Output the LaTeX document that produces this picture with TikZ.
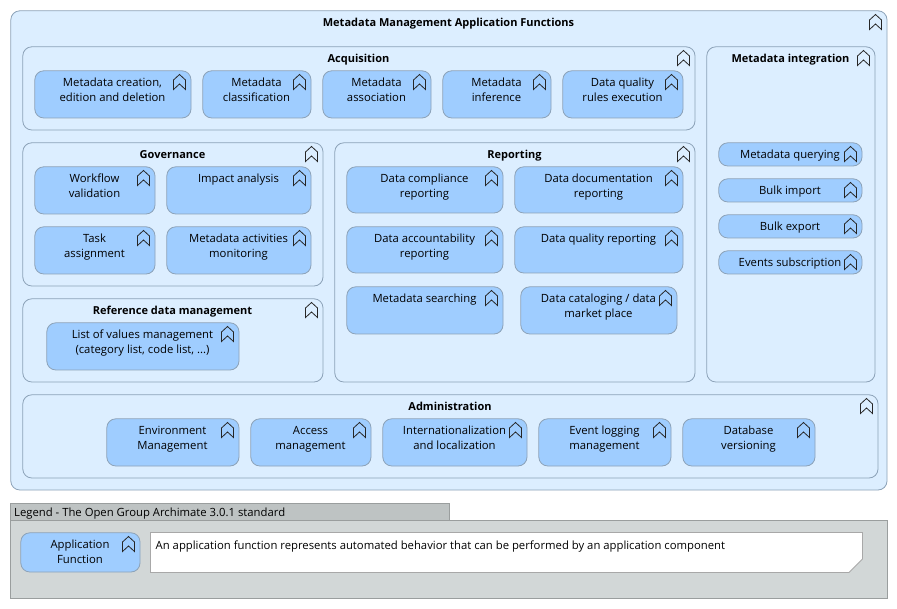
\documentclass[tikz,border=0pt]{standalone}
\usepackage{fontspec}
\setmainfont{Open Sans}
\definecolor{outerfill}{HTML}{DCEEFF}
\definecolor{leaffill}{HTML}{9FCDFF}
\definecolor{edgeblue}{HTML}{8CA2B8}
\definecolor{legendbg}{HTML}{D2D7D7}
\definecolor{legendtab}{HTML}{BEC3C3}
\definecolor{legendedge}{HTML}{9A9E9E}
\definecolor{noteedge}{HTML}{A8A8A8}
\tikzset{x=1pt,y=-1pt,
 groupbox/.style={draw=edgeblue,fill=outerfill,rounded corners=9pt,line width=.8pt},
 leafbox/.style={draw=edgeblue,fill=leaffill,rounded corners=9pt,line width=.8pt},
 label/.style={inner sep=0pt,align=center,font=\fontsize{11.3}{15}\selectfont},
 grouplabel/.style={label,font=\fontsize{11}{15}\selectfont\bfseries},
 chev/.style={draw=black!85,line width=.8pt,line join=miter}}
\newcommand{\chevicon}[2]{% right edge x, top y
 \draw[chev] (#1-17.5,#2+10) -- (#1-11.5,#2+4.5) -- (#1-5.5,#2+10) -- (#1-5.5,#2+19.5) -- (#1-11.5,#2+14) -- (#1-17.5,#2+19.5) -- cycle;
}
% name, x0, y0, x1, y1, text
\newcommand{\leaf}[6]{%
 \node[leafbox,inner sep=0pt,minimum width=#4pt-#2pt-.8pt,minimum height=#5pt-#3pt-.8pt,anchor=north west] (#1) at (#2+.4,#3+.4) {};
 \node[label,anchor=north] (#1t) at ({(#2+#4)/2},#3+4) {\rule{0pt}{12pt}#6};
 \chevicon{#4}{#3}
}
\newcommand{\group}[6]{%
 \node[groupbox,inner sep=0pt,minimum width=#4pt-#2pt-.8pt,minimum height=#5pt-#3pt-.8pt,anchor=north west] (#1) at (#2+.4,#3+.4) {};
 \node[grouplabel,anchor=north] (#1t) at ({(#2+#4)/2},#3+4) {\rule{0pt}{12pt}#6};
 \chevicon{#4}{#3}
}
\begin{document}
\begin{tikzpicture}
\useasboundingbox (0,0) rectangle (897,609);
\fill[white] (0,0) rectangle (897,609);
\group{main}{10}{10}{887}{490}{Metadata Management Application Functions}
\group{acq}{22}{46}{695}{130}{Acquisition}
\leaf{a1}{34}{70}{191}{118}{Metadata creation,\\edition and deletion}
\leaf{a2}{202}{70}{311}{118}{Metadata\\classification}
\leaf{a3}{322}{70}{431}{118}{Metadata\\association}
\leaf{a4}{442}{70}{551}{118}{Metadata\\inference}
\leaf{a5}{562}{70}{683}{118}{Data quality\\rules execution}
\group{int}{706}{46}{875}{382}{Metadata integration}
\leaf{i1}{718}{142}{862}{166}{Metadata querying}
\leaf{i2}{718}{178}{862}{202}{Bulk import}
\leaf{i3}{718}{214}{862}{238}{Bulk export}
\leaf{i4}{718}{250}{862}{274}{Events subscription}
\group{gov}{22}{142}{323}{286}{Governance}
\leaf{g1}{34}{166}{155}{214}{Workflow\\validation}
\leaf{g2}{166}{166}{311}{214}{Impact analysis}
\leaf{g3}{34}{226}{155}{274}{Task\\assignment}
\leaf{g4}{166}{226}{311}{274}{Metadata activities\\monitoring}
\group{ref}{22}{298}{323}{382}{Reference data management}
\leaf{r1}{46}{322}{239}{370}{List of values management\\(category list, code list, ...)}
\group{rep}{334}{142}{695}{382}{Reporting}
\leaf{p1}{346}{166}{503}{213}{Data compliance\\reporting}
\leaf{p2}{514}{166}{683}{213}{Data documentation\\reporting}
\leaf{p3}{346}{226}{503}{273}{Data accountability\\reporting}
\leaf{p4}{514}{226}{683}{273}{Data quality reporting}
\leaf{p5}{346}{286}{503}{334}{Metadata searching}
\leaf{p6}{520}{286}{677}{334}{Data cataloging / data\\market place}
\group{adm}{22}{394}{878}{478}{Administration}
\leaf{d1}{106}{418}{239}{466}{Environment\\Management}
\leaf{d2}{250}{418}{371}{466}{Access\\management}
\leaf{d3}{382}{418}{527}{466}{Internationalization\\and localization}
\leaf{d4}{538}{418}{671}{466}{Event logging\\management}
\leaf{d5}{682}{418}{815}{466}{Database\\versioning}
% legend
\node[draw=legendedge,fill=legendbg,line width=.8pt,inner sep=0pt,minimum width=876.2pt,minimum height=77.2pt,anchor=north west] (legend) at (10.4,520.4) {};
\node[draw=legendedge,fill=legendtab,line width=.8pt,inner sep=0pt,minimum width=438.2pt,minimum height=16.6pt,anchor=north west] (tab) at (10.4,503.4) {};
\node[label,anchor=base west] (tabt) at (14,516) {Legend - The Open Group Archimate 3.0.1 standard};
\leaf{lf}{20}{532}{140}{572}{Application\\Function}
\draw[fill=white,draw=noteedge,line width=.8pt] (150.5,532.5) -- (862.5,532.5) -- (862.5,559) -- (849,572.5) -- (150.5,572.5) -- cycle;
\node[label,anchor=base west] (note) at (155.5,549) {An application function represents automated behavior that can be performed by an application component};
\end{tikzpicture}
\end{document}
